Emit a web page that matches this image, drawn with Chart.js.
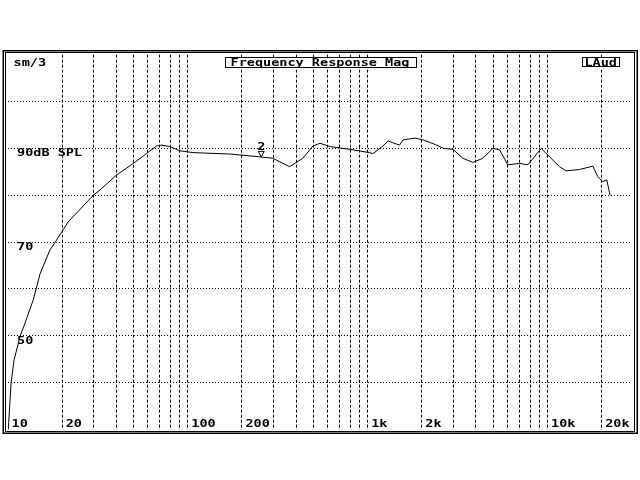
<!DOCTYPE html>
<html><head><meta charset="utf-8">
<script src="https://cdn.jsdelivr.net/npm/chart.js@4.4.1/dist/chart.umd.min.js"></script>
<style>html,body{margin:0;padding:0;background:#fff;}canvas{display:block;}</style>
</head><body>
<canvas id="c" width="640" height="480"></canvas>
<script>
// ---- data ----
const freqs = [10, 10.4, 10.8, 11.7, 12.4, 13.8, 15.1, 17.1, 18.6, 21.6, 29.8, 32.4, 40.1, 49.8, 58.9, 67, 71.3, 79.3, 90, 107, 171, 251, 296, 368, 436, 496, 543, 616, 794, 1023, 1070, 1216, 1297, 1380, 1505, 1572, 1830, 2036, 2318, 2640, 2980, 3383, 3846, 4373, 4967, 5412, 6016, 6988, 7775, 9225, 10260, 11660, 12700, 15060, 17860, 19020, 20290, 21350, 22290];
const spl   = [29, 39.9, 44.8, 50, 52.6, 57.6, 63.3, 68.3, 70.4, 74.3, 80, 81.1, 84.3, 86.8, 88.9, 90.5, 90.7, 90.4, 89.5, 89.1, 88.8, 88.2, 87.9, 86.1, 87.9, 90.5, 91.1, 90.4, 89.8, 89.1, 88.9, 90.5, 91.6, 91.2, 90.7, 91.8, 92.2, 91.8, 91.0, 90.0, 89.8, 87.9, 87.0, 87.9, 90.0, 89.7, 86.5, 86.8, 86.5, 90.0, 88.2, 86.1, 85.2, 85.5, 86.2, 84.0, 82.9, 83.3, 80.0];
const gridFreqs = [20, 30, 40, 50, 60, 70, 80, 90, 100, 200, 300, 400, 500, 600, 700, 800, 900, 1000, 2000, 3000, 4000, 5000, 6000, 7000, 8000, 9000, 10000, 20000];
const xTickValues = [10, 20, 100, 200, 1000, 2000, 10000, 20000];
const xTickLabels = ['10', '20', '100', '200', '1k', '2k', '10k', '20k'];
const yTickValues = [90, 70, 50];
const yTickLabels = ['90dB SPL', '70', '50'];
const chartTitle = 'Frequency Response Mag';
const cornerLeft = 'sm/3';
const cornerRight = 'LAud';
const markerFreq = [256];
const markerLevel = [88.2];
const markerText = ['2'];

const FONT = 'bold 10px "DejaVu Sans Mono"';
const SX = 1.35;
function txt(ctx, s, x, base) {
  ctx.save(); ctx.translate(x, base); ctx.scale(SX, 1); ctx.fillText(s, 0, 0); ctx.restore();
}
function tw(ctx, s) { return ctx.measureText(s).width * SX; }

const deco = {
  id: 'deco',
  beforeDraw(chart) {
    const ctx = chart.ctx;
    ctx.save(); ctx.fillStyle = '#fff'; ctx.fillRect(0, 0, chart.width, chart.height); ctx.restore();
  },
  afterDraw(chart) {
    const ctx = chart.ctx, x = chart.scales.x, y = chart.scales.y, a = chart.chartArea;
    ctx.save();
    ctx.fillStyle = '#000'; ctx.strokeStyle = '#000';
    ctx.font = FONT; ctx.textBaseline = 'alphabetic'; ctx.textAlign = 'left';
    // frame
    ctx.lineWidth = 1.5; ctx.strokeRect(3.25, 50.75, 634, 382.5);
    ctx.lineWidth = 1; ctx.strokeRect(5.5, 52.5, 629, 379);
    // x labels
    xTickValues.forEach((v, i) => txt(ctx, xTickLabels[i], x.getPixelForValue(v) + 3.5, a.bottom - 2.5));
    // y labels
    yTickValues.forEach((v, i) => txt(ctx, yTickLabels[i], 17, y.getPixelForValue(v) + 8));
    // corner texts
    txt(ctx, cornerLeft, 13.5, 65.5);
    // title box
    const cx = (a.left + a.right) / 2;
    const w = tw(ctx, chartTitle);
    ctx.fillStyle = '#fff';
    ctx.fillRect(cx - w / 2 - 6, 57, w + 12, 11);
    ctx.fillStyle = '#000';
    ctx.strokeRect(Math.round(cx - w / 2 - 6) + 0.5, 57.5, Math.round(w + 12), 10);
    txt(ctx, chartTitle, cx - w / 2, 66);
    const w2 = tw(ctx, cornerRight);
    const rx = a.right - 13;
    ctx.fillStyle = '#fff';
    ctx.fillRect(rx - w2 - 4, 57, w2 + 5, 11);
    ctx.fillStyle = '#000';
    ctx.strokeRect(Math.round(rx - w2 - 4) + 0.5, 57.5, Math.round(w2 + 4), 9);
    txt(ctx, cornerRight, rx - w2 - 2, 65.5);
    // marker
    markerFreq.forEach((f, i) => {
      const px = x.getPixelForValue(f), py = y.getPixelForValue(markerLevel[i]);
      const mw = tw(ctx, markerText[i]);
      txt(ctx, markerText[i], px - mw / 2, py - 6.5);
      ctx.beginPath();
      ctx.moveTo(px - 3, py - 5.5); ctx.lineTo(px + 3, py - 5.5); ctx.lineTo(px, py); ctx.closePath();
      ctx.stroke();
    });
    ctx.restore();
  }
};

new Chart(document.getElementById('c'), {
  type: 'line',
  data: {
    datasets: [{
      data: freqs.map((f, i) => ({ x: f, y: spl[i] })),
      borderColor: '#000', borderWidth: 1, pointRadius: 0, tension: 0, fill: false
    }]
  },
  options: {
    responsive: false, animation: false, devicePixelRatio: 1,
    layout: { padding: { left: 8, right: 8, top: 54.7, bottom: 50.5 } },
    plugins: { legend: { display: false }, tooltip: { enabled: false } },
    scales: {
      x: {
        type: 'logarithmic', min: 10, max: 29500,
        afterBuildTicks: s => { s.ticks = gridFreqs.map(v => ({ value: v })); },
        ticks: { display: false },
        grid: { color: '#000', lineWidth: 1, drawTicks: false },
        border: { display: false, dash: [3, 2] }
      },
      y: {
        type: 'linear', min: 30, max: 110,
        ticks: { display: false, stepSize: 10 },
        grid: {
          color: c => (c.tick && (c.tick.value === 30 || c.tick.value === 110)) ? 'rgba(0,0,0,0)' : '#000',
          lineWidth: 1, drawTicks: false
        },
        border: { display: false, dash: [1, 2] }
      }
    }
  },
  plugins: [deco]
});
</script>
</body></html>
